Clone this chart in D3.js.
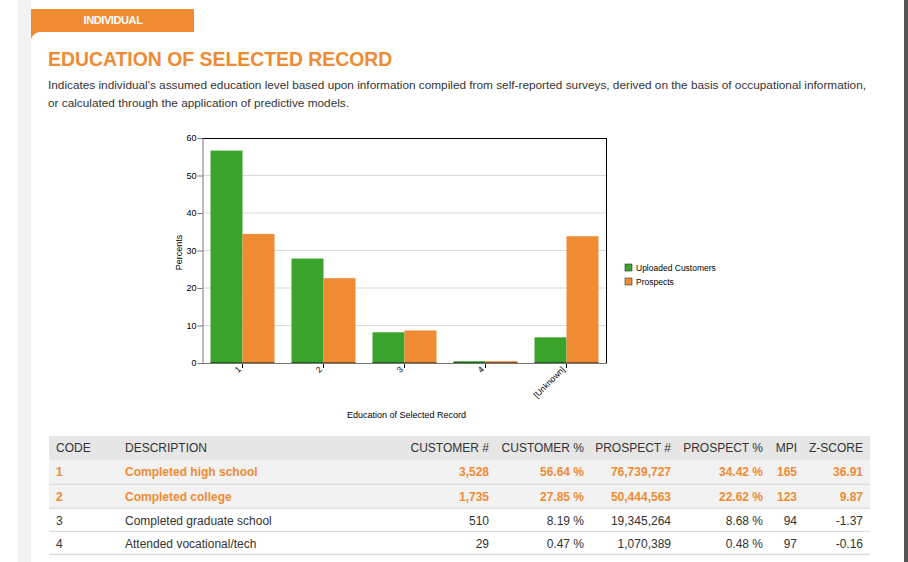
<!DOCTYPE html>
<html>
<head>
<meta charset="utf-8">
<script src="https://cdn.jsdelivr.net/npm/d3@7"></script>
<style>
  body { margin: 0; background: #fff; }
  svg { display: block; font-family: "Liberation Sans", Arial, sans-serif; }
</style>
</head>
<body>
<svg id="page" width="908" height="562"></svg>
<script>
// chart data
const categories = ["1", "2", "3", "4", "[Unknown]"];
const seriesNames = ["Uploaded Customers", "Prospects"];
const customerPct = [56.64, 27.85, 8.19, 0.47, 6.85];
const prospectPct = [34.42, 22.62, 8.68, 0.48, 33.8];
const yTicks = [0, 10, 20, 30, 40, 50, 60];

// table data
const tableHeaders = ["CODE", "DESCRIPTION", "CUSTOMER #", "CUSTOMER %", "PROSPECT #", "PROSPECT %", "MPI", "Z-SCORE"];
const codes = ["1", "2", "3", "4"];
const descriptions = ["Completed high school", "Completed college", "Completed graduate school", "Attended vocational/tech"];
const customerCounts = ["3,528", "1,735", "510", "29"];
const customerPctText = ["56.64 %", "27.85 %", "8.19 %", "0.47 %"];
const prospectCounts = ["76,739,727", "50,444,563", "19,345,264", "1,070,389"];
const prospectPctText = ["34.42 %", "22.62 %", "8.68 %", "0.48 %"];
const mpi = ["165", "123", "94", "97"];
const zScores = ["36.91", "9.87", "-1.37", "-0.16"];
const highlighted = [true, true, false, false];

const green = "#3aa32b", orange = "#ee8b33";
const svg = d3.select("#page");

// page frame
svg.append("rect").attr("x", 18).attr("y", 0).attr("width", 13).attr("height", 562).style("fill", "#f2f2f2");
svg.append("rect").attr("x", 904).attr("y", 0).attr("width", 4).attr("height", 562).style("fill", "#555");
svg.append("rect").attr("x", 31).attr("y", 9).attr("width", 163).attr("height", 30).style("fill", orange);
svg.append("rect").attr("x", 31).attr("y", 32).attr("width", 873).attr("height", 540)
    .attr("rx", 9).style("fill", "#fff");
svg.append("rect").attr("x", 40).attr("y", 32).attr("width", 864).attr("height", 530).style("fill", "#fff");
svg.append("text").attr("x", 113).attr("y", 24).attr("text-anchor", "middle")
    .style("font-size", "11px").style("font-weight", "bold").style("fill", "#fff")
    .style("letter-spacing", "-0.4px").text("INDIVIDUAL");

svg.append("text").attr("x", 48).attr("y", 66)
    .style("font-size", "19.4px").style("font-weight", "bold").style("fill", orange)
    .text("EDUCATION OF SELECTED RECORD");
const desc = ["Indicates individual's assumed education level based upon information compiled from self-reported surveys, derived on the basis of occupational information,",
              "or calculated through the application of predictive models."];
svg.selectAll("text.desc").data(desc).enter().append("text").attr("class", "desc")
    .attr("x", 48).attr("y", (d, i) => 89 + i * 18)
    .style("font-size", "11.8px").style("fill", "#333").text(d => d);

// bar chart
const plot = {left: 202, top: 138, right: 607, bottom: 363};
const x = d3.scaleBand().domain(categories).range([plot.left, plot.right]).paddingInner(0.21).paddingOuter(0.105);
const xs = d3.scaleBand().domain(seriesNames).range([0, x.bandwidth()]);
const y = d3.scaleLinear().domain([0, 60]).range([plot.bottom, plot.top]);
const color = d3.scaleOrdinal().domain(seriesNames).range([green, orange]);

const chart = svg.append("g").style("font-size", "9px");

chart.selectAll("line.grid").data(yTicks.slice(1, -1)).enter().append("line").attr("class", "grid")
    .attr("x1", plot.left).attr("x2", plot.right).attr("y1", d => y(d)).attr("y2", d => y(d))
    .style("stroke", "#d9d9d9");

const rows = categories.map((c, i) => ({cat: c, vals: [customerPct[i], prospectPct[i]]}));
const groups = chart.selectAll("g.bars").data(rows).enter().append("g").attr("class", "bars")
    .attr("transform", d => `translate(${x(d.cat)},0)`);
groups.selectAll("rect").data(d => d.vals.map((v, j) => ({name: seriesNames[j], v}))).enter()
    .append("rect")
    .attr("x", d => xs(d.name)).attr("width", xs.bandwidth())
    .attr("y", d => y(d.v)).attr("height", d => y(0) - y(d.v))
    .style("fill", d => color(d.name));
groups.selectAll("line").data(d => d.vals.map((v, j) => ({name: seriesNames[j], v}))).enter()
    .append("line")
    .attr("x1", d => xs(d.name)).attr("x2", d => xs(d.name) + xs.bandwidth())
    .attr("y1", y(0) - 0.5).attr("y2", y(0) - 0.5)
    .style("stroke", d => d3.color(color(d.name)).darker(1.5));

// plot frame
chart.append("line").attr("x1", plot.left - 4).attr("x2", plot.right).attr("y1", plot.top + 0.5).attr("y2", plot.top + 0.5)
    .style("stroke", "#000");
chart.append("line").attr("x1", plot.right - 0.5).attr("x2", plot.right - 0.5).attr("y1", plot.top).attr("y2", plot.bottom)
    .style("stroke", "#000");
chart.append("line").attr("x1", plot.left).attr("x2", plot.right).attr("y1", plot.bottom + 0.5).attr("y2", plot.bottom + 0.5)
    .style("stroke", "#777");

const yAxis = chart.append("g").attr("transform", `translate(${plot.left + 0.5},0)`)
    .call(d3.axisLeft(y).tickValues(yTicks).tickSize(5).tickSizeOuter(0));
yAxis.select(".domain").style("stroke", "#777");
yAxis.selectAll(".tick line").style("stroke", "#777");
yAxis.selectAll(".tick text").attr("x", -6).style("font-size", "9px").style("fill", "#000")
    .style("font-family", "'Liberation Sans', Arial, sans-serif");

const xAxis = chart.append("g").attr("transform", `translate(0,${plot.bottom + 1})`)
    .call(d3.axisBottom(x).tickSize(4).tickSizeOuter(0));
xAxis.select(".domain").remove();
xAxis.selectAll(".tick line").style("stroke", "#000");
xAxis.selectAll(".tick text")
    .style("font-size", "8.5px").style("fill", "#000").style("text-anchor", "end")
    .style("font-family", "'Liberation Sans', Arial, sans-serif")
    .attr("dy", 0).attr("y", 0)
    .attr("transform", "translate(-1,6) rotate(-45)");

chart.append("text").attr("transform", `translate(182,${(plot.top + plot.bottom) / 2 + 2}) rotate(-90)`)
    .attr("text-anchor", "middle").style("fill", "#000").text("Percents");
chart.append("text").attr("x", (plot.left + plot.right) / 2 + 2).attr("y", 418)
    .attr("text-anchor", "middle").style("fill", "#000").text("Education of Selected Record");

// legend
const legend = chart.selectAll("g.legend").data(seriesNames).enter().append("g").attr("class", "legend")
    .attr("transform", (d, i) => `translate(625,${264 + i * 14})`);
legend.append("rect").attr("width", 7).attr("height", 7).style("fill", d => color(d))
    .style("stroke", "#333").style("stroke-width", 0.6);
legend.append("text").attr("x", 11).attr("y", 7).style("font-size", "8.5px").style("fill", "#000").text(d => d);

// data table
const tbl = {left: 49, right: 870, headTop: 436};
const rowTops = [460, 485, 509, 532];
const rowBottoms = [484, 508, 531, 554];
const colX = [56, 125, 489, 584, 671, 763, 797, 863];
const colAnchor = ["start", "start", "end", "end", "end", "end", "end", "end"];

const table = svg.append("g").style("font-size", "12px");
table.append("rect").attr("x", tbl.left).attr("y", tbl.headTop).attr("width", tbl.right - tbl.left)
    .attr("height", rowTops[0] - tbl.headTop).style("fill", "#e6e6e6");
table.selectAll("text.head").data(tableHeaders).enter().append("text").attr("class", "head")
    .attr("x", (d, i) => colX[i]).attr("y", 452).attr("text-anchor", (d, i) => colAnchor[i])
    .style("fill", "#333").text(d => d);

const tableRows = codes.map((c, i) => [c, descriptions[i], customerCounts[i], customerPctText[i],
    prospectCounts[i], prospectPctText[i], mpi[i], zScores[i]]);
const tr = table.selectAll("g.row").data(tableRows).enter().append("g").attr("class", "row");
tr.append("rect").attr("x", tbl.left).attr("width", tbl.right - tbl.left)
    .attr("y", (d, i) => rowTops[i]).attr("height", (d, i) => rowBottoms[i] - rowTops[i])
    .style("fill", (d, i) => highlighted[i] ? "#f2f2f2" : "#fff");
tr.append("line").attr("x1", tbl.left).attr("x2", tbl.right)
    .attr("y1", (d, i) => rowBottoms[i] + 0.5).attr("y2", (d, i) => rowBottoms[i] + 0.5)
    .style("stroke", "#dcdcdc").style("stroke-width", 1.5);
tr.each(function(row, i) {
    d3.select(this).selectAll("text").data(row).enter().append("text")
        .attr("x", (d, j) => colX[j]).attr("y", rowTops[i] + 16)
        .attr("text-anchor", (d, j) => colAnchor[j])
        .style("fill", highlighted[i] ? orange : "#333")
        .style("font-weight", highlighted[i] ? "bold" : "normal")
        .text(d => d);
});
</script>
</body>
</html>
